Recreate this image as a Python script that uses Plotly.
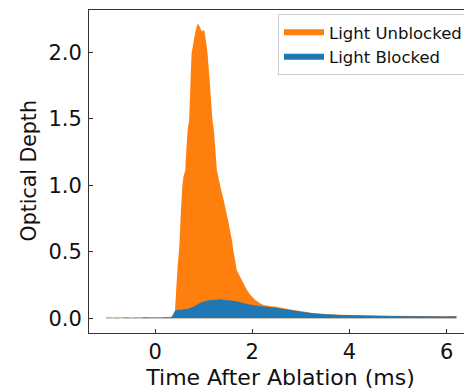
import plotly.graph_objects as go

# Light Unblocked (orange)
t_unblocked = [-1.0, -0.8, -0.6, -0.4, -0.2, 0.0, 0.2, 0.3, 0.36, 0.38, 0.41, 0.44, 0.47,
               0.50, 0.53, 0.56, 0.58, 0.60, 0.62, 0.64, 0.67, 0.70, 0.75, 0.81, 0.85,
               0.88, 0.91, 0.96, 1.01, 1.05, 1.08, 1.12, 1.18, 1.21, 1.27, 1.35, 1.41,
               1.50, 1.58, 1.61, 1.68, 1.78, 1.89, 1.95, 2.06, 2.15, 2.23, 2.35, 2.5,
               2.7, 2.85, 3.05, 3.26, 3.5, 3.8, 4.2, 4.6, 5.0, 5.4, 5.8, 6.2]
od_unblocked = [0.008, 0.005, 0.007, 0.004, 0.009, 0.006, 0.008, 0.010, 0.015, 0.02, 0.06,
                0.25, 0.42, 0.55, 0.80, 0.99, 1.06, 1.09, 1.11, 1.25, 1.42, 1.49, 1.99,
                2.12, 2.19, 2.218, 2.20, 2.16, 2.17, 2.08, 1.99, 1.80, 1.49, 1.416, 1.115,
                0.98, 0.89, 0.74, 0.589, 0.51, 0.363, 0.289, 0.213, 0.18, 0.138, 0.115,
                0.100, 0.092, 0.087, 0.072, 0.062, 0.05, 0.037, 0.032, 0.026, 0.022,
                0.019, 0.018, 0.017, 0.016, 0.016]

# Light Blocked (blue)
t_blocked = [-1.0, -0.9, -0.8, -0.7, -0.6, -0.5, -0.4, -0.3, -0.2, -0.1, 0.0, 0.1, 0.2,
             0.3, 0.34, 0.38, 0.41, 0.45, 0.5, 0.55, 0.6, 0.65, 0.7, 0.75, 0.79, 0.85,
             0.92, 1.0, 1.06, 1.15, 1.25, 1.34, 1.42, 1.5, 1.61, 1.68, 1.75, 1.89, 2.0,
             2.15, 2.3, 2.5, 2.78, 3.0, 3.25, 3.5, 3.81, 4.1, 4.4, 4.84, 5.2, 5.6, 5.9, 6.2]
od_blocked = [0.004, -0.002, 0.003, 0.0, 0.004, 0.001, 0.005, 0.002, 0.006, 0.003, 0.005,
              0.004, 0.007, 0.006, 0.010, 0.035, 0.057, 0.060, 0.065, 0.062, 0.070, 0.068,
              0.075, 0.080, 0.087, 0.100, 0.115, 0.126, 0.132, 0.138, 0.140, 0.143, 0.138,
              0.136, 0.132, 0.128, 0.120, 0.107, 0.100, 0.093, 0.087, 0.078, 0.062, 0.048,
              0.037, 0.030, 0.025, 0.022, 0.020, 0.017, 0.015, 0.016, 0.014, 0.015]

x_ticks = [0, 2, 4, 6]
y_ticks = [0.0, 0.5, 1.0, 1.5, 2.0]
x_title = "Time After Ablation (ms)"
y_title = "Optical Depth"

ORANGE = "#ff7f0e"
BLUE = "#1f77b4"
FONT = "DejaVu Sans"

# figure geometry (page adds an 8px body margin, so figure is 8px smaller)
W, H = 464, 382
ML, MR, MT, MB = 81, 0, 2, 57
PW, PH = W - ML - MR, H - MT - MB


def px_x(x):  # viewport pixel -> paper x
    return (x - 8 - ML) / PW


def px_y(y):  # viewport pixel -> paper y
    return 1 - (y - 8 - MT) / PH


fig = go.Figure()
fig.add_trace(go.Scatter(x=t_unblocked, y=od_unblocked, name="Light Unblocked",
                         mode="none", fill="tozeroy", fillcolor=ORANGE))
fig.add_trace(go.Scatter(x=t_blocked, y=od_blocked, name="Light Blocked",
                         mode="none", fill="tozeroy", fillcolor=BLUE))

axis_common = dict(showgrid=False, zeroline=False, showline=True, linecolor="#333",
                   linewidth=1, ticks="inside", ticklen=4, tickwidth=1, tickcolor="#333",
                   automargin=False,
                   tickfont=dict(family=FONT, size=21, color="#111"))

fig.update_layout(
    width=W, height=H,
    margin=dict(l=ML, r=MR, t=MT, b=MB),
    paper_bgcolor="white", plot_bgcolor="white",
    font=dict(family=FONT, color="#111"),
    xaxis=dict(range=[-1.36, 6.52], tickvals=x_ticks, mirror=True,
               title=dict(text=x_title, font=dict(family=FONT, size=22, color="#111"),
                          standoff=6),
               **axis_common),
    yaxis=dict(range=[-0.111, 2.32], tickvals=y_ticks, tickformat=".1f",
               ticklabelstandoff=2, **axis_common),
    legend=dict(x=px_x(468), y=px_y(14), xanchor="right", yanchor="top",
                bgcolor="white", bordercolor="#ccc", borderwidth=1, itemwidth=40,
                font=dict(family=FONT, size=16.5, color="#111")),
    showlegend=True,
    annotations=[
        dict(text=y_title, xref="paper", yref="paper", x=px_x(28.5), y=px_y(171),
             xanchor="center", yanchor="middle", showarrow=False, textangle=-90,
             font=dict(family=FONT, size=20.5, color="#111")),
    ],
)

fig.write_html("out.html")
